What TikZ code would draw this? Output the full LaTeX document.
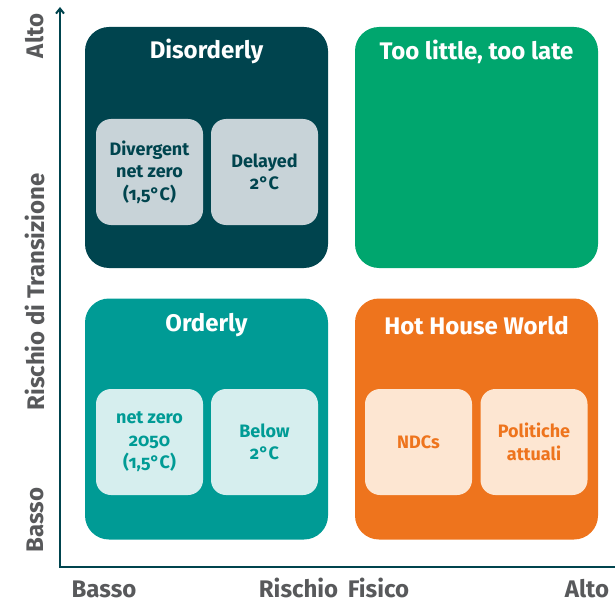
\documentclass[tikz,border=0pt]{standalone}
\usepackage{fontspec}
\setmainfont{Fira Sans}[Numbers=OldStyle]
\usetikzlibrary{arrows.meta}
\definecolor{dorange}{HTML}{EE741D}
\definecolor{dteal}{HTML}{00444E}
\definecolor{dgreen}{HTML}{00A66E}
\definecolor{dcyan}{HTML}{009B95}
\definecolor{dgrey}{HTML}{58595B}
\definecolor{paleteal}{HTML}{C8D3D8}
\definecolor{palecyan}{HTML}{D6EEEE}
\definecolor{paleorange}{HTML}{FDE6D2}
\def\axlabel{\fontsize{24}{26}\selectfont\bfseries}

\begin{document}
\begin{tikzpicture}[x=1pt,y=-1pt,
    quad/.style={rounded corners=24pt, minimum width=243pt, minimum height=241pt, inner sep=0pt},
    title/.style={font=\fontsize{24}{26}\selectfont\bfseries, text=white},
    cell/.style={rounded corners=15pt, minimum width=107pt, minimum height=106pt, inner sep=2pt,
        align=center, font=\fontsize{18}{22.5}\selectfont\bfseries},
    axlab/.style={font=\axlabel, text=dgrey},
    xlab/.style={axlab, anchor=base, inner sep=0pt, text depth=0pt}]
    \useasboundingbox (0,0) rectangle (615,604);
    % quadranti
    \node[quad, fill=dteal]   (dis) at (206.5,147.5) {};
    \node[quad, fill=dgreen]  (tlt) at (476.5,147.5) {};
    \node[quad, fill=dcyan]   (ord) at (206.5,419) {};
    \node[quad, fill=dorange] (hhw) at (476.5,419) {};
    \node[title] (distitle) at ([yshift=-25pt]dis.north) {Disorderly};
    \node[title] (tlttitle) at ([yshift=-25pt]tlt.north) {Too little, too late};
    \node[title] (ordtitle) at ([yshift=-27pt]ord.north) {Orderly};
    \node[title] (hhwtitle) at ([yshift=-27pt]hhw.north) {Hot House World};
    % scenari
    \node[cell, fill=paleteal, text=dteal]    (divergent) at (149.5,172) {Divergent\\net zero\\(1,5°C)};
    \node[cell, fill=paleteal, text=dteal]    (delayed)   at (264.5,172) {Delayed\\2°C};
    \node[cell, fill=palecyan, text=dcyan]    (netzero)   at (149.5,442) {net zero\\2050\\(1,5°C)};
    \node[cell, fill=palecyan, text=dcyan]    (below)     at (264.5,442) {Below\\2°C};
    \node[cell, fill=paleorange, text=dorange] (ndcs)     at (418.5,442) {NDCs};
    \node[cell, fill=paleorange, text=dorange] (politiche) at (534,442) {Politiche\\attuali};
    % assi
    \coordinate (origin) at (60,567);
    \coordinate (ytop) at (60,7);
    \coordinate (xend) at (615,567);
    \draw[dteal, line width=2pt, -{Straight Barb[length=5pt,width=8pt]}] (origin) -- (ytop);
    \draw[dteal, line width=2pt] ([xshift=-1pt]origin) -- (xend);
    \node[axlab, rotate=90] (yhigh) at (35,36) {Alto};
    \node[axlab, rotate=90] (yname) at (35,292) {Rischio di Transizione};
    \node[axlab, rotate=90] (ylow)  at (35,520) {Basso};
    \node[xlab] (xlow)  at (104,597) {Basso};
    \node[xlab] (xname) at (334,597) {Rischio\, Fisico};
    \node[xlab] (xhigh) at (587,597) {Alto};
\end{tikzpicture}
\end{document}
